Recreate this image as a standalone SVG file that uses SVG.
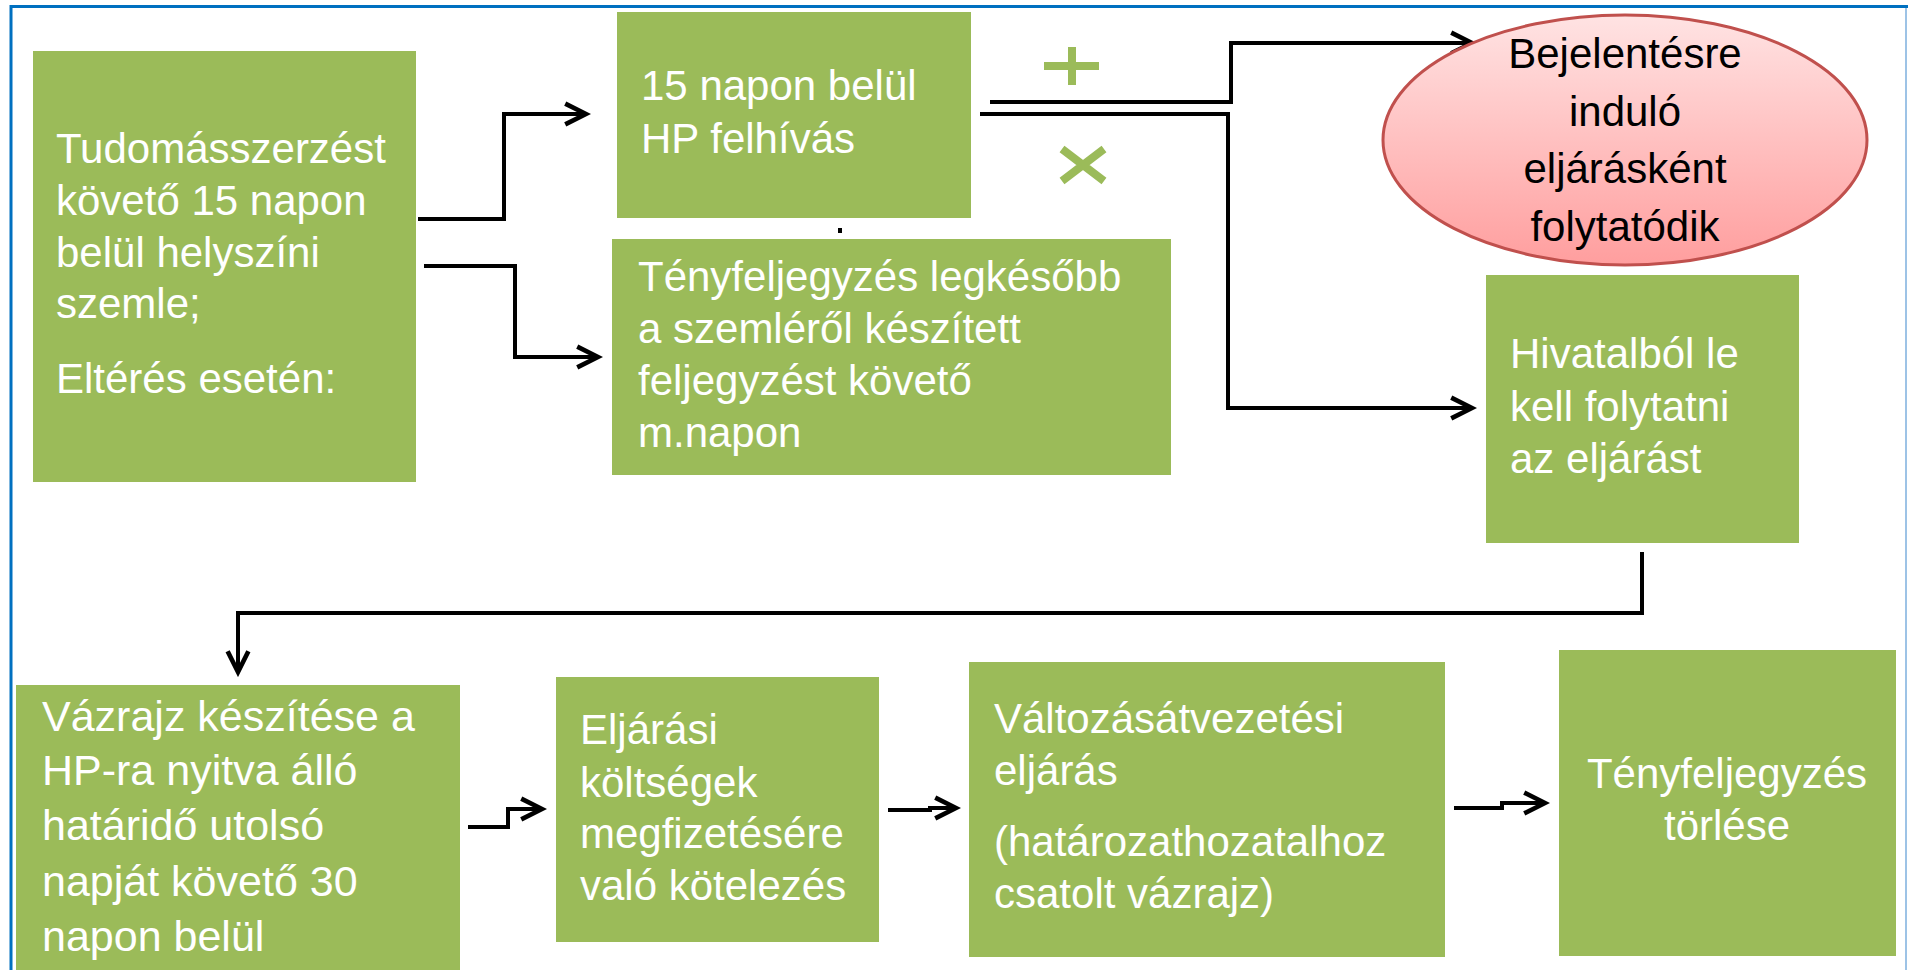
<svg xmlns="http://www.w3.org/2000/svg" width="1908" height="970" viewBox="0 0 1908 970">
<defs>
<style>
.box{fill:#9BBB59;}
.t{font-family:"Liberation Sans",Arial,sans-serif;font-size:42px;fill:#FFFFFF;}
.tl{font-family:"Liberation Sans",Arial,sans-serif;font-size:43px;fill:#FFFFFF;}
.td{font-family:"Liberation Sans",Arial,sans-serif;font-size:42px;fill:#000000;text-anchor:middle;}
.c{fill:none;stroke:#000000;stroke-width:4;marker-end:url(#arr);}
.sign{stroke:#9BBB59;stroke-width:8;fill:none;}
</style>
<marker id="arr" markerUnits="userSpaceOnUse" markerWidth="30" markerHeight="30" viewBox="-22 -12 26 24" refX="0" refY="0" orient="auto">
<path d="M-18,-9 L0,0 L-18,9" fill="none" stroke="#000000" stroke-width="4"/>
</marker>
<linearGradient id="pink" x1="0" y1="0" x2="0" y2="1">
<stop offset="0" stop-color="#FFE3E3"/>
<stop offset="1" stop-color="#FF9E9E"/>
</linearGradient>
</defs>
<rect width="1908" height="970" fill="#FFFFFF"/>
<g id="frame">
<path d="M11,970 V6.5 H1908" fill="none" stroke="#0070C0" stroke-width="3"/>
<line x1="1906" y1="8" x2="1906" y2="970" stroke="#9DC3E6" stroke-width="2"/>
</g>
<g id="connectors">
<path class="c" d="M418,219 H504 V114 H586"/>
<path class="c" d="M424,266 H515 V357 H598"/>
<path class="c" d="M990,102 H1231 V43 H1472"/>
<path class="c" d="M980,114 H1228 V408 H1472"/>
<path class="c" d="M1642,552 V613 H238 V672"/>
<path class="c" d="M468,827 H508 V809 H542"/>
<path class="c" d="M888,810 H930 V808 H956"/>
<path class="c" d="M1454,808 H1502 V803 H1545"/>
<rect x="838" y="228" width="4" height="5" fill="#000000"/>
</g>
<g id="plus">
<path class="sign" d="M1044,66 H1099 M1072,47 V85"/>
</g>
<g id="cross">
<path class="sign" d="M1062,149 L1104,181 M1104,149 L1062,181"/>
</g>
<g id="n1">
<rect class="box" x="33" y="51" width="383" height="431"/>
<text class="t" x="56" y="163">Tudomásszerzést</text>
<text class="t" x="56" y="215">követő 15 napon</text>
<text class="t" x="56" y="267">belül helyszíni</text>
<text class="t" x="56" y="318">szemle;</text>
<text class="t" x="56" y="393">Eltérés esetén:</text>
</g>
<g id="n2">
<rect class="box" x="617" y="12" width="354" height="206"/>
<text class="t" x="641" y="100">15 napon belül</text>
<text class="t" x="641" y="153">HP felhívás</text>
</g>
<g id="n3">
<rect class="box" x="612" y="239" width="559" height="236"/>
<text class="t" x="638" y="291">Tényfeljegyzés legkésőbb</text>
<text class="t" x="638" y="343">a szemléről készített</text>
<text class="t" x="638" y="395">feljegyzést követő</text>
<text class="t" x="638" y="447">m.napon</text>
</g>
<g id="n4">
<ellipse cx="1625" cy="140" rx="242" ry="125" fill="url(#pink)" stroke="#C0504D" stroke-width="3"/>
<text class="td" x="1625" y="68">Bejelentésre</text>
<text class="td" x="1625" y="126">induló</text>
<text class="td" x="1625" y="183">eljárásként</text>
<text class="td" x="1625" y="241">folytatódik</text>
</g>
<g id="n5">
<rect class="box" x="1486" y="275" width="313" height="268"/>
<text class="t" x="1510" y="368">Hivatalból le</text>
<text class="t" x="1510" y="421">kell folytatni</text>
<text class="t" x="1510" y="473">az eljárást</text>
</g>
<g id="n6">
<rect class="box" x="16" y="685" width="444" height="290"/>
<text class="tl" x="42" y="731">Vázrajz készítése a</text>
<text class="tl" x="42" y="785">HP-ra nyitva álló</text>
<text class="tl" x="42" y="840">határidő utolsó</text>
<text class="tl" x="42" y="896">napját követő 30</text>
<text class="tl" x="42" y="951">napon belül</text>
</g>
<g id="n7">
<rect class="box" x="556" y="677" width="323" height="265"/>
<text class="t" x="580" y="744">Eljárási</text>
<text class="t" x="580" y="797">költségek</text>
<text class="t" x="580" y="848">megfizetésére</text>
<text class="t" x="580" y="900">való kötelezés</text>
</g>
<g id="n8">
<rect class="box" x="969" y="662" width="476" height="295"/>
<text class="t" x="994" y="733">Változásátvezetési</text>
<text class="t" x="994" y="785">eljárás</text>
<text class="t" x="994" y="856">(határozathozatalhoz</text>
<text class="t" x="994" y="908">csatolt vázrajz)</text>
</g>
<g id="n9">
<rect class="box" x="1559" y="650" width="337" height="306"/>
<text class="t" x="1727" y="788" text-anchor="middle">Tényfeljegyzés</text>
<text class="t" x="1727" y="840" text-anchor="middle">törlése</text>
</g>
</svg>
